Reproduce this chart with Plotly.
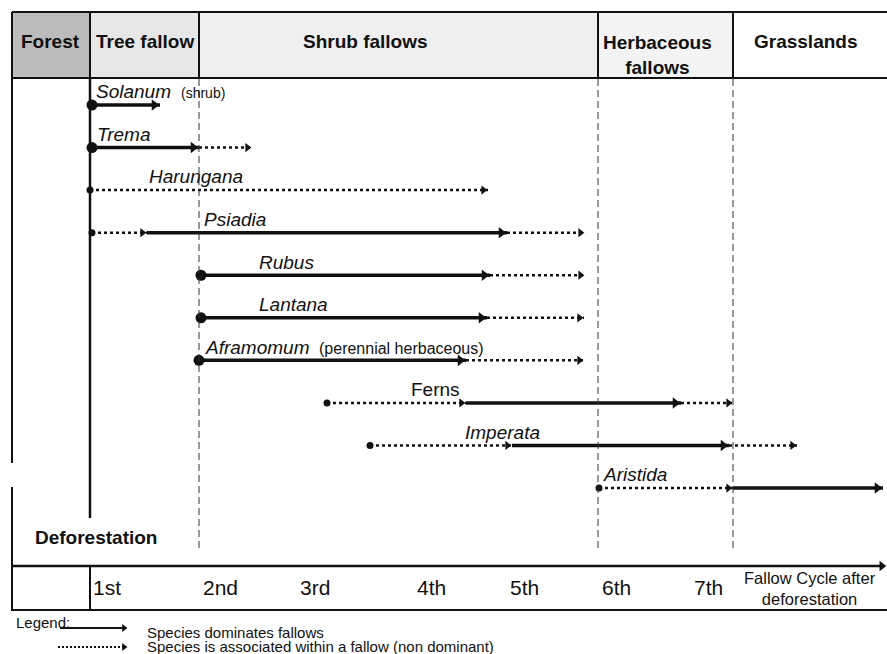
import plotly.graph_objects as go

# ---------------- data (x in fallow-cycle units, 0 = deforestation) ----------------
species = ["Solanum", "Trema", "Harungana", "Psiadia", "Rubus", "Lantana",
           "Aframomum", "Ferns", "Imperata", "Aristida"]
italic = [True, True, True, True, True, True, True, False, True, True]
notes = ["(shrub)", "", "", "", "", "", "(perennial herbaceous)", "", "", ""]
onset     = [0.02, 0.02, 0.00, 0.02, 1.11, 1.11, 1.09, 2.37, 2.80, 5.09]
dom_start = [0.02, 0.02, None, 0.57, 1.11, 1.11, 1.09, 3.76, 4.22, 6.43]
dom_end   = [0.70, 1.09, None, 4.17, 4.00, 3.97, 3.76, 5.91, 6.39, 7.93]
assoc_end = [None, 1.62, 3.98, 4.95, 4.95, 4.94, 4.94, 6.43, 7.07, None]

phases = ["Forest", "Tree fallow", "Shrub fallows", "Herbaceous<br>fallows", "Grasslands"]
phase_edges = [-0.78, 0.0, 1.09, 5.08, 6.43, 7.97]
phase_fill = ["#bcbcbc", "#e7e7e7", "#efefef", "#f3f3f3", "#ffffff"]

tick_labels = ["1st", "2nd", "3rd", "4th", "5th", "6th", "7th"]
tick_pos = [0.17, 1.30, 2.25, 3.41, 4.34, 5.26, 6.18]

legend_lines = ["Species dominates fallows",
                "Species is associated within a fallow (non dominant)"]

# label layout
label_x = [0.05, 0.06, 0.58, 1.13, 1.68, 1.68, 1.14, 3.20, 3.74, 5.12]
note_x = [0.90, None, None, None, None, None, 2.28, None, None, None]
note_size = [14, 0, 0, 0, 0, 0, 16, 0, 0, 0]
phase_label_x = [-0.40, 0.545, 2.75, 5.67, 7.16]

# ---------------- scale helpers (pixel layout -> data units) ----------------
W, H = 887, 654
PX_PER_X, X0 = 100.0, 90.0
PX_PER_ROW, Y0 = 42.56, 105.0


def fx(px):
    return (px - X0) / PX_PER_X


def fy(py):
    return (py - Y0) / PX_PER_ROW


FONT = "Liberation Sans, Arial, sans-serif"
INK = "#111111"
SOLID_W, DOT_W = 3.5, 2.5
HEAD_SOLID, HEAD_DOT = 10, 8


def head_pos(tip, size):
    return tip - 0.577 * size / PX_PER_X


solid_x, solid_y, dot_x, dot_y = [], [], [], []
hs_x, hs_y, hd_x, hd_y = [], [], [], []
big_x, big_y, small_x, small_y = [], [], [], []

for r, name in enumerate(species):
    o, ds, de, ae = onset[r], dom_start[r], dom_end[r], assoc_end[r]
    if ds is not None and abs(ds - o) < 1e-9:
        big_x.append(o); big_y.append(r)
    else:
        small_x.append(o); small_y.append(r)
    if ds is None:
        dot_x += [o, ae, None]; dot_y += [r, r, None]
        hd_x.append(head_pos(ae, HEAD_DOT)); hd_y.append(r)
        continue
    if ds > o + 1e-9:
        dot_x += [o, ds, None]; dot_y += [r, r, None]
        hd_x.append(head_pos(ds, HEAD_DOT)); hd_y.append(r)
    solid_x += [ds, de, None]; solid_y += [r, r, None]
    hs_x.append(head_pos(de, HEAD_SOLID)); hs_y.append(r)
    if ae is not None:
        dot_x += [de, ae, None]; dot_y += [r, r, None]
        hd_x.append(head_pos(ae, HEAD_DOT)); hd_y.append(r)

fig = go.Figure()
fig.add_trace(go.Scatter(x=dot_x, y=dot_y, mode="lines",
                         line=dict(color=INK, width=DOT_W, dash="3px,3px"),
                         hoverinfo="skip", showlegend=False))
fig.add_trace(go.Scatter(x=solid_x, y=solid_y, mode="lines",
                         line=dict(color=INK, width=SOLID_W),
                         hoverinfo="skip", showlegend=False))
fig.add_trace(go.Scatter(x=hs_x, y=hs_y, mode="markers",
                         marker=dict(symbol="triangle-right", size=HEAD_SOLID, color=INK,
                                     line=dict(width=0)),
                         hoverinfo="skip", showlegend=False))
fig.add_trace(go.Scatter(x=hd_x, y=hd_y, mode="markers",
                         marker=dict(symbol="triangle-right", size=HEAD_DOT, color=INK,
                                     line=dict(width=0)),
                         hoverinfo="skip", showlegend=False))
fig.add_trace(go.Scatter(x=big_x, y=big_y, mode="markers",
                         marker=dict(symbol="circle", size=11, color=INK, line=dict(width=0)),
                         hoverinfo="skip", showlegend=False))
fig.add_trace(go.Scatter(x=small_x, y=small_y, mode="markers",
                         marker=dict(symbol="circle", size=7, color=INK, line=dict(width=0)),
                         hoverinfo="skip", showlegend=False))

# legend arrows (same drawing style)
lg_y1, lg_y2 = fy(628), fy(647)
fig.add_trace(go.Scatter(x=[fx(60), fx(124)], y=[lg_y1, lg_y1], mode="lines",
                         line=dict(color=INK, width=2), hoverinfo="skip", showlegend=False))
fig.add_trace(go.Scatter(x=[fx(58), fx(124)], y=[lg_y2, lg_y2], mode="lines",
                         line=dict(color=INK, width=2, dash="2px,2px"),
                         hoverinfo="skip", showlegend=False))
fig.add_trace(go.Scatter(x=[head_pos(fx(128), 7), head_pos(fx(128), 7)], y=[lg_y1, lg_y2],
                         mode="markers",
                         marker=dict(symbol="triangle-right", size=7, color=INK, line=dict(width=0)),
                         hoverinfo="skip", showlegend=False))
# main time axis arrowhead
fig.add_trace(go.Scatter(x=[head_pos(fx(887), 9)], y=[fy(566)], mode="markers",
                         marker=dict(symbol="triangle-right", size=9, color=INK, line=dict(width=0)),
                         hoverinfo="skip", showlegend=False))

shapes = []
# header cells
for i in range(len(phases)):
    shapes.append(dict(type="rect", xref="x", yref="y", layer="below",
                       x0=phase_edges[i], x1=phase_edges[i + 1], y0=fy(12), y1=fy(78),
                       fillcolor=phase_fill[i], line=dict(width=0)))
# header vertical separators
for e in phase_edges[:-1]:
    shapes.append(dict(type="line", xref="x", yref="y", x0=e, x1=e, y0=fy(12), y1=fy(78),
                       line=dict(color=INK, width=2)))
# header top/bottom lines
for py in (12, 78):
    shapes.append(dict(type="line", xref="x", yref="y", x0=fx(12), x1=fx(887), y0=fy(py), y1=fy(py),
                       line=dict(color=INK, width=2)))
# dashed phase boundaries
for e in phase_edges[2:5]:
    shapes.append(dict(type="line", xref="x", yref="y", x0=e, x1=e, y0=fy(79), y1=fy(550),
                       line=dict(color="#333333", width=1, dash="7px,4px")))
# left frame (with gap)
shapes.append(dict(type="line", xref="x", yref="y", x0=fx(12), x1=fx(12), y0=fy(12), y1=fy(463),
                   line=dict(color=INK, width=2)))
shapes.append(dict(type="line", xref="x", yref="y", x0=fx(12), x1=fx(12), y0=fy(487), y1=fy(611),
                   line=dict(color=INK, width=2)))
# deforestation line
shapes.append(dict(type="line", xref="x", yref="y", x0=0, x1=0, y0=fy(78), y1=fy(518),
                   line=dict(color=INK, width=2.5)))
# time axis and bottom line
shapes.append(dict(type="line", xref="x", yref="y", x0=fx(12), x1=head_pos(fx(887), 9), y0=fy(566), y1=fy(566),
                   line=dict(color=INK, width=2.5)))
shapes.append(dict(type="line", xref="x", yref="y", x0=fx(12), x1=fx(887), y0=fy(610), y1=fy(610),
                   line=dict(color=INK, width=2)))
shapes.append(dict(type="line", xref="x", yref="y", x0=0, x1=0, y0=fy(566), y1=fy(610),
                   line=dict(color=INK, width=2)))

ann = []
# phase headers
for i, p in enumerate(phases):
    yc = fy(54.5) if "<br>" in p else fy(41.5)
    ann.append(dict(x=phase_label_x[i], y=yc, xref="x", yref="y", text="<b>%s</b>" % p,
                    showarrow=False, xanchor="center", yanchor="middle",
                    font=dict(family=FONT, size=19, color=INK)))
# species labels
for r, name in enumerate(species):
    t = "<i>%s</i>" % name if italic[r] else name
    ann.append(dict(x=label_x[r], y=r - 0.31, xref="x", yref="y", text=t, showarrow=False,
                    xanchor="left", yanchor="middle", borderpad=0,
                    font=dict(family=FONT, size=19, color=INK)))
    if notes[r]:
        ann.append(dict(x=note_x[r], y=r - 0.29, xref="x", yref="y", text=notes[r], showarrow=False,
                        xanchor="left", yanchor="middle", borderpad=0,
                        font=dict(family=FONT, size=note_size[r], color=INK)))
# deforestation
ann.append(dict(x=fx(96), y=fy(537), xref="x", yref="y", text="<b>Deforestation</b>", showarrow=False,
                xanchor="center", yanchor="middle", font=dict(family=FONT, size=19, color=INK)))
# cycle labels
for t, p in zip(tick_labels, tick_pos):
    ann.append(dict(x=p, y=fy(587), xref="x", yref="y", text=t, showarrow=False,
                    xanchor="center", yanchor="middle", font=dict(family=FONT, size=21, color=INK)))
ann.append(dict(x=fx(810), y=fy(588), xref="x", yref="y", text="Fallow Cycle after<br>deforestation",
                showarrow=False, xanchor="center", yanchor="middle",
                font=dict(family=FONT, size=16.5, color=INK)))
# legend text
ann.append(dict(x=fx(15), y=fy(622), xref="x", yref="y", text="Legend:", showarrow=False,
                xanchor="left", yanchor="middle", borderpad=0, font=dict(family=FONT, size=15, color=INK)))
for txt, py in zip(legend_lines, (632, 646)):
    ann.append(dict(x=fx(146), y=fy(py), xref="x", yref="y", text=txt, showarrow=False,
                    xanchor="left", yanchor="middle", borderpad=0,
                    font=dict(family=FONT, size=15, color=INK)))

fig.update_layout(
    width=W, height=H, margin=dict(l=0, r=0, t=0, b=0),
    paper_bgcolor="white", plot_bgcolor="white",
    xaxis=dict(range=[fx(0), fx(W)], visible=False, fixedrange=True),
    yaxis=dict(range=[fy(H), fy(0)], visible=False, fixedrange=True),
    shapes=shapes, annotations=ann, showlegend=False,
)
fig.write_html("out.html", config={"displayModeBar": False},
               post_script="document.body.style.margin='0px';document.body.style.overflow='hidden';")
